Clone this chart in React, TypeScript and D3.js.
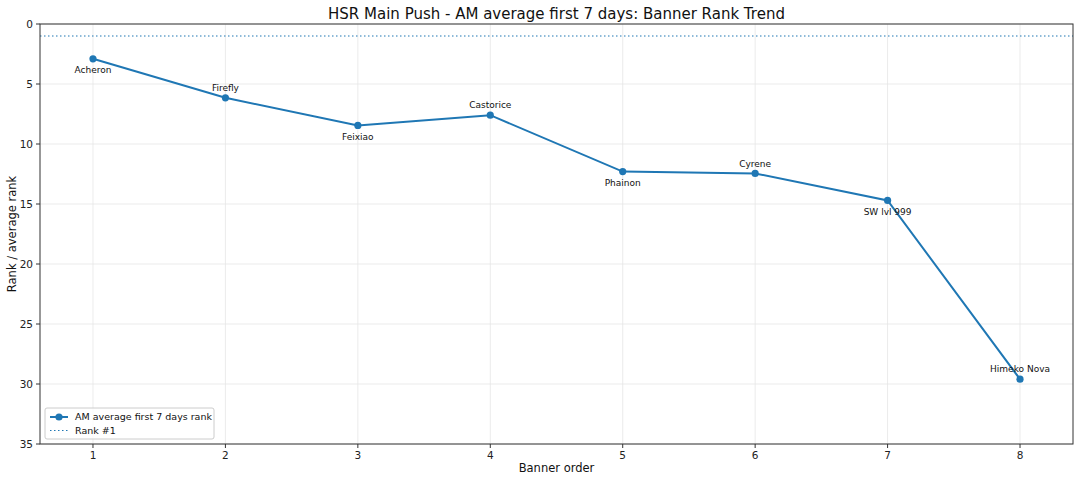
import * as d3 from "d3";

const banners = [
  "Acheron",
  "Firefly",
  "Feixiao",
  "Castorice",
  "Phainon",
  "Cyrene",
  "SW lvl 999",
  "Himeko Nova",
];
const order = [1, 2, 3, 4, 5, 6, 7, 8];
const avgRank = [2.9, 6.15, 8.45, 7.6, 12.3, 12.45, 14.7, 29.6];
const yTicks = [0, 5, 10, 15, 20, 25, 30, 35];
const xTicks = [1, 2, 3, 4, 5, 6, 7, 8];

const width = 1080;
const height = 481;
const marginTop = 24;
const marginRight = 7;
const marginBottom = 37;
const marginLeft = 40;
const color = "#1f77b4";

export default function App() {
  const x = d3.scaleLinear([0.6, 8.4], [marginLeft, width - marginRight]);
  const y = d3.scaleLinear([0, 35], [marginTop, height - marginBottom]);

  const line = d3.line<number>((d, i) => x(order[i]), (d) => y(d));

  return (
    <svg
      width={width}
      height={height}
      style={{ position: "absolute", left: 0, top: 0, fontFamily: "DejaVu Sans" }}
    >
      <rect width={width} height={height} fill="white" />
      {/* grid */}
      <g stroke="#e6e6e6" strokeWidth={0.8}>
        {xTicks.map((t) => (
          <line key={"gx" + t} x1={x(t)} x2={x(t)} y1={marginTop} y2={height - marginBottom} />
        ))}
        {yTicks.map((t) => (
          <line key={"gy" + t} x1={marginLeft} x2={width - marginRight} y1={y(t)} y2={y(t)} />
        ))}
      </g>
      {/* rank #1 */}
      <line
        x1={marginLeft}
        x2={width - marginRight}
        y1={y(1)}
        y2={y(1)}
        stroke={color}
        strokeWidth={1.2}
        strokeDasharray="1.5,2.5"
      />
      <path d={line(avgRank)!} fill="none" stroke={color} strokeWidth={2} />
      {avgRank.map((d, i) => (
        <circle key={i} cx={x(order[i])} cy={y(d)} r={3.6} fill={color} />
      ))}
      {avgRank.map((d, i) => (
        <text
          key={"l" + i}
          x={x(order[i])}
          y={y(d) + (i % 2 === 0 ? 11 : -10)}
          dy="0.35em"
          textAnchor="middle"
          fontSize={9}
          fill="#111"
        >
          {banners[i]}
        </text>
      ))}
      {/* frame */}
      <rect
        x={marginLeft}
        y={marginTop}
        width={width - marginRight - marginLeft}
        height={height - marginBottom - marginTop}
        fill="none"
        stroke="#333"
        strokeWidth={1}
      />
      {/* x ticks */}
      {xTicks.map((t) => (
        <g key={"xt" + t} transform={`translate(${x(t)},${height - marginBottom})`}>
          <line y2={4} stroke="#333" />
          <text y={15} textAnchor="middle" fontSize={10.5} fill="#222">
            {t}
          </text>
        </g>
      ))}
      {yTicks.map((t) => (
        <g key={"yt" + t} transform={`translate(${marginLeft},${y(t)})`}>
          <line x2={-4} stroke="#333" />
          <text x={-7} dy="0.35em" textAnchor="end" fontSize={10.5} fill="#222">
            {t}
          </text>
        </g>
      ))}
      <text x={(marginLeft + width - marginRight) / 2} y={19} textAnchor="middle" fontSize={15} fill="#111">
        HSR Main Push - AM average first 7 days: Banner Rank Trend
      </text>
      <text x={(marginLeft + width - marginRight) / 2} y={472} textAnchor="middle" fontSize={11.5} fill="#111">
        Banner order
      </text>
      <text
        transform={`translate(16,${(marginTop + height - marginBottom) / 2}) rotate(-90)`}
        textAnchor="middle"
        fontSize={11.5}
        fill="#111"
      >
        Rank / average rank
      </text>
      {/* legend */}
      <g transform="translate(45,408)">
        <rect width={169} height={31} rx={2} fill="white" fillOpacity={0.8} stroke="#ccc" />
        <line x1={5} x2={23} y1={9} y2={9} stroke={color} strokeWidth={2} />
        <circle cx={14} cy={9} r={3.6} fill={color} />
        <text x={30} y={9} dy="0.35em" fontSize={9.5} fill="#111">
          AM average first 7 days rank
        </text>
        <line x1={5} x2={23} y1={22.5} y2={22.5} stroke={color} strokeWidth={1.2} strokeDasharray="1.5,2.5" />
        <text x={30} y={22.5} dy="0.35em" fontSize={9.5} fill="#111">
          Rank #1
        </text>
      </g>
    </svg>
  );
}
